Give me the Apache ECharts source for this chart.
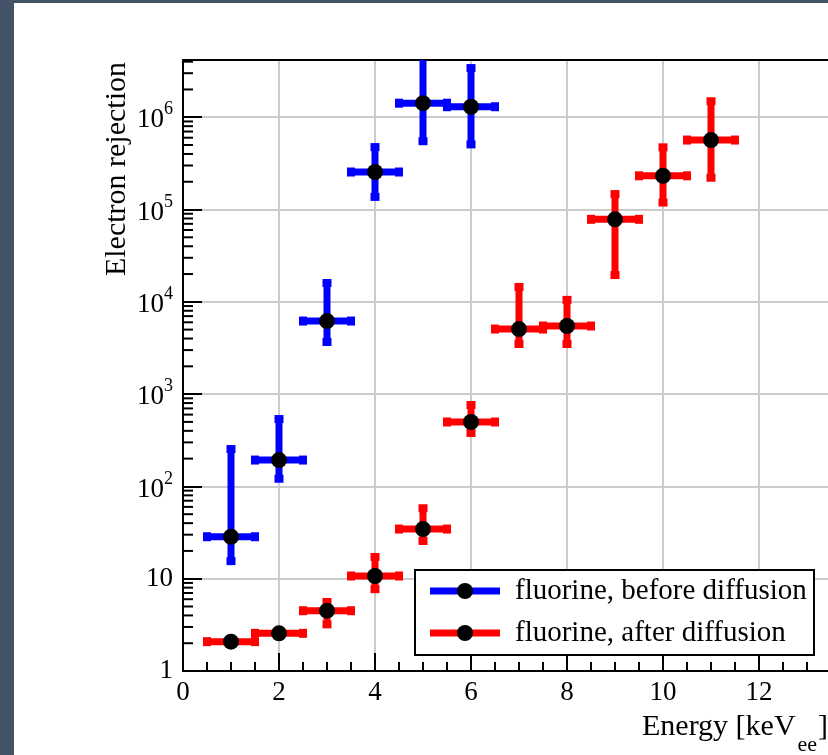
<!DOCTYPE html>
<html>
<head>
<meta charset="utf-8">
<script src="https://cdn.jsdelivr.net/npm/echarts@6/dist/echarts.min.js"></script>
<style>
  html, body { margin: 0; padding: 0; background: #435368; }
  #paper { position: absolute; left: 14px; top: 3px; width: 814px; height: 752px; background: #ffffff; }
  #chart { position: absolute; left: 0; top: 0; width: 828px; height: 755px; }
</style>
</head>
<body>
<div id="paper"></div>
<div id="chart"></div>
<script>
// ---- data ----
const energyBefore = [1, 2, 3, 4, 5, 6];
const rejBefore     = [28.5, 193, 6190, 2.55e5, 1.42e6, 1.30e6];
const rejBeforeLow  = [15.5, 121, 3670, 1.37e5, 5.5e5, 5.08e5];
const rejBeforeHigh = [254, 537, 16000, 4.75e5, 5.0e6, 3.41e6];

const energyAfter = [1, 2, 3, 4, 5, 6, 7, 8, 9, 10, 11];
const rejAfter     = [2.08, 2.56, 4.5, 10.7, 34.5, 499, 5070, 5470, 78300, 2.32e5, 5.66e5];
const rejAfterLow  = [2.0, 2.45, 3.2, 7.7, 25.6, 379, 3490, 3490, 19500, 1.19e5, 2.21e5];
const rejAfterHigh = [2.17, 2.68, 5.6, 17.2, 58, 762, 14500, 10500, 1.47e5, 4.72e5, 1.49e6];

const energyHalfWidth = 0.5;

const xTickLabels = ['0', '2', '4', '6', '8', '10', '12'];
const yDecades = [0, 1, 2, 3, 4, 5, 6];
const yMinorMultipliers = [2, 3, 4, 5, 6, 7, 8, 9];

const legendLabels = ['fluorine, before diffusion', 'fluorine, after diffusion'];
const xTitleMain = 'Energy [keV';
const xTitleSub = 'ee';
const xTitleEnd = ']';
const yTitle = 'Electron rejection';

// ---- layout / style ----
const FONT = '"Liberation Serif", "DejaVu Serif", serif';
const BLUE = '#0000ff';
const RED = '#ff0000';
const Y_MAX = 4.17e6;
const X_MAX = 13.5;

const yMinorTicks = [];
yDecades.forEach(d => yMinorMultipliers.forEach(m => {
  const v = m * Math.pow(10, d);
  if (v < Y_MAX) yMinorTicks.push([0, v]);
}));

function toItems(xs, ys, lo, hi) {
  return xs.map((x, i) => [x, ys[i], lo[i], hi[i]]);
}

function errorRender(color) {
  return function (params, api) {
    const x = api.value(0), y = api.value(1), yl = api.value(2), yh = api.value(3);
    const c = api.coord([x, y]);
    const l = api.coord([x - energyHalfWidth, y]);
    const r = api.coord([x + energyHalfWidth, y]);
    const lo = api.coord([x, yl]);
    const hi = api.coord([x, yh]);
    const T = 7, CL = 9, CW = 8;
    const st = { fill: color };
    return {
      type: 'group',
      children: [
        { type: 'rect', shape: { x: l[0], y: c[1] - T / 2, width: r[0] - l[0], height: T }, style: st },
        { type: 'rect', shape: { x: c[0] - T / 2, y: hi[1], width: T, height: lo[1] - hi[1] }, style: st },
        { type: 'rect', shape: { x: l[0] - CW / 2, y: c[1] - CL / 2, width: CW, height: CL }, style: st },
        { type: 'rect', shape: { x: r[0] - CW / 2, y: c[1] - CL / 2, width: CW, height: CL }, style: st },
        { type: 'rect', shape: { x: c[0] - CL / 2, y: hi[1] - CW / 2, width: CL, height: CW }, style: st },
        { type: 'rect', shape: { x: c[0] - CL / 2, y: lo[1] - CW / 2, width: CL, height: CW }, style: st }
      ]
    };
  };
}

function isDecade(v) {
  const l = Math.log10(v);
  return Math.abs(l - Math.round(l)) < 1e-6;
}

// text measurement for the x title with subscript
const mctx = document.createElement('canvas').getContext('2d');
function textW(str, size) { mctx.font = size + 'px ' + FONT; return mctx.measureText(str).width; }
const TITLE_SIZE = 30, SUB_SIZE = 22;
const xTitleLeft = 642;
const wMain = textW(xTitleMain, TITLE_SIZE);
const wSub = textW(xTitleSub, SUB_SIZE);

const LZ = 100;
const chart = echarts.init(document.getElementById('chart'), null, { renderer: 'canvas' });
chart.setOption({
  animation: false,
  backgroundColor: 'transparent',
  grid: {
    left: 183, top: 60, width: 648, height: 611,
    outerBoundsMode: 'none', containLabel: false,
    show: false
  },
  xAxis: [
    {
      type: 'value', min: 0, max: X_MAX, interval: 2,
      axisLine: { show: true, onZero: false, lineStyle: { color: '#000', width: 2 } },
      axisTick: { show: true, inside: true, length: 18, lineStyle: { color: '#000', width: 2 } },
      minorTick: { show: true, splitNumber: 4, length: 9, lineStyle: { color: '#000', width: 2 } },
      splitLine: { show: true, lineStyle: { color: '#cccccc', width: 2 } },
      axisLabel: {
        color: '#000', fontFamily: FONT, fontSize: 27, margin: 8,
        formatter: v => {
          const s = String(Math.round(v));
          return (Math.abs(v - Math.round(v)) < 1e-9 && xTickLabels.indexOf(s) >= 0) ? s : '';
        }
      }
    },
    {
      type: 'value', min: 0, max: X_MAX, position: 'top',
      axisLine: { show: true, onZero: false, lineStyle: { color: '#000', width: 2 } },
      axisTick: { show: false }, axisLabel: { show: false }, splitLine: { show: false }
    }
  ],
  yAxis: {
    type: 'log', logBase: 10, min: 1, max: Y_MAX,
    axisLine: { show: true, lineStyle: { color: '#000', width: 2 } },
    axisTick: { show: true, inside: true, length: 19, lineStyle: { color: '#000', width: 2 } },
    splitLine: { show: true, lineStyle: { color: '#cccccc', width: 2 } },
    axisLabel: {
      color: '#000', fontFamily: FONT, fontSize: 27, margin: 10,
      formatter: v => {
        if (!isDecade(v)) return '';
        const e = Math.round(Math.log10(v));
        if (e === 0) return '{p|1}';
        if (e === 1) return '{p|10}';
        return '{b|10}{s|' + e + '}';
      },
      rich: {
        p: { fontFamily: FONT, fontSize: 27, color: '#000' },
        b: { fontFamily: FONT, fontSize: 27, color: '#000', padding: [6, 0, 0, 0], verticalAlign: 'top' },
        s: { fontFamily: FONT, fontSize: 18, color: '#000', verticalAlign: 'top' }
      }
    }
  },
  series: [
    {
      type: 'custom', name: 'minorTicksY', silent: true, clip: false, z: 5,
      data: yMinorTicks,
      renderItem: (params, api) => {
        const p = api.coord([api.value(0), api.value(1)]);
        return { type: 'line', shape: { x1: p[0], y1: p[1], x2: p[0] + 10, y2: p[1] }, style: { stroke: '#000', lineWidth: 2 } };
      }
    },
    {
      type: 'custom', name: legendLabels[0], clip: true, silent: true,
      data: toItems(energyBefore, rejBefore, rejBeforeLow, rejBeforeHigh),
      renderItem: errorRender(BLUE)
    },
    {
      type: 'scatter', name: legendLabels[0] + ' markers', silent: true,
      data: energyBefore.map((x, i) => [x, rejBefore[i]]),
      symbol: 'circle', symbolSize: 16, itemStyle: { color: '#000', opacity: 1 }
    },
    {
      type: 'custom', name: legendLabels[1], clip: true, silent: true,
      data: toItems(energyAfter, rejAfter, rejAfterLow, rejAfterHigh),
      renderItem: errorRender(RED)
    },
    {
      type: 'scatter', name: legendLabels[1] + ' markers', silent: true,
      data: energyAfter.map((x, i) => [x, rejAfter[i]]),
      symbol: 'circle', symbolSize: 16, itemStyle: { color: '#000', opacity: 1 }
    }
  ],
  graphic: [
    {
      type: 'text', x: 117, y: 62, rotation: Math.PI / 2, z: 10,
      style: { text: yTitle, fontFamily: FONT, fontSize: TITLE_SIZE, fill: '#000', align: 'right', verticalAlign: 'middle' }
    },
    {
      type: 'text', x: xTitleLeft, y: 727, z: 10,
      style: { text: xTitleMain, fontFamily: FONT, fontSize: TITLE_SIZE, fill: '#000', align: 'left', verticalAlign: 'middle' }
    },
    {
      type: 'text', x: xTitleLeft + wMain + 2, y: 745, z: 10,
      style: { text: xTitleSub, fontFamily: FONT, fontSize: SUB_SIZE, fill: '#000', align: 'left', verticalAlign: 'middle' }
    },
    {
      type: 'text', x: xTitleLeft + wMain + 2 + wSub + 1, y: 727, z: 10,
      style: { text: xTitleEnd, fontFamily: FONT, fontSize: TITLE_SIZE, fill: '#000', align: 'left', verticalAlign: 'middle' }
    },
    { type: 'rect', z: LZ, zlevel: 1, shape: { x: 415, y: 570, width: 399, height: 85 }, style: { fill: '#fff', stroke: '#000', lineWidth: 2 } },
    { type: 'rect', z: LZ + 1, zlevel: 1, shape: { x: 430, y: 587.5, width: 70, height: 7 }, style: { fill: BLUE } },
    { type: 'circle', z: LZ + 2, zlevel: 1, shape: { cx: 465, cy: 591, r: 8 }, style: { fill: '#000' } },
    { type: 'text', z: LZ + 2, zlevel: 1, x: 515, y: 591, style: { text: legendLabels[0], fontFamily: FONT, fontSize: 29, fill: '#000', align: 'left', verticalAlign: 'middle' } },
    { type: 'rect', z: LZ + 1, zlevel: 1, shape: { x: 430, y: 629.5, width: 70, height: 7 }, style: { fill: RED } },
    { type: 'circle', z: LZ + 2, zlevel: 1, shape: { cx: 465, cy: 633, r: 8 }, style: { fill: '#000' } },
    { type: 'text', z: LZ + 2, zlevel: 1, x: 515, y: 633, style: { text: legendLabels[1], fontFamily: FONT, fontSize: 29, fill: '#000', align: 'left', verticalAlign: 'middle' } }
  ]
});
</script>
</body>
</html>
